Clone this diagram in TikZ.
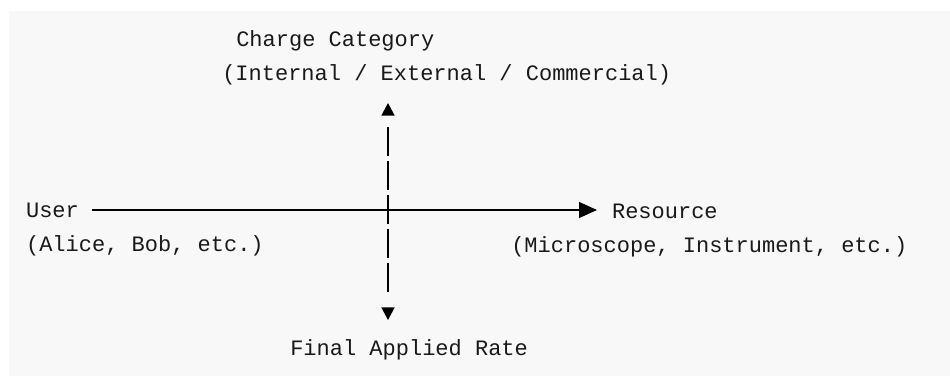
\documentclass[tikz,border=0pt]{standalone}
\usepackage{fontspec}
\newfontfamily\codefont{Liberation Mono}
\usetikzlibrary{arrows.meta}
\definecolor{panel}{RGB}{248,248,248}
\definecolor{ink}{RGB}{25,25,25}
\begin{document}
\begin{tikzpicture}[x=0.75pt,y=-0.75pt,
  txt/.style={font=\codefont\fontsize{16.5pt}{20pt}\selectfont, text=ink,
              inner sep=0pt, anchor=base west},
  haxis/.style={draw=black, line width=0.8pt,
                -{Triangle[length=13.5pt,width=12pt]},
                shorten <=10pt, shorten >=11.1pt},
  % vertical axis: a gap next to each head, then five bar segments
  vaxis/.style={draw=black, line width=1.1pt,
                dash pattern=on 0pt off 8.625pt
                  on 21.75pt off 3.75pt on 21.75pt off 3.75pt
                  on 21.75pt off 3.75pt on 21.75pt off 3.75pt
                  on 21.75pt off 80pt,
                {Triangle[length=9.4pt,width=9.75pt]}-{Triangle[length=9.4pt,width=9.75pt]},
                shorten <=17.25pt, shorten >=26.25pt}]
  % page and panel
  \useasboundingbox (0,0) rectangle (950,376);
  \fill[panel] (9,11) rectangle (950,376);

  % labels
  \node[txt] (cat1)  at (236,46)    {Charge Category};
  \node[txt] (cat2)  at (222,80)    {(Internal / External / Commercial)};
  \node[txt] (user)  at (25.8,217)  {User};
  \node[txt] (alice) at (25.8,251.5){(Alice, Bob, etc.)};
  \node[txt] (res)   at (611.8,218) {Resource};
  \node[txt] (micro) at (511,252)   {(Microscope, Instrument, etc.)};
  \node[txt] (final) at (290,355)   {Final Applied Rate};

  % where the two axes cross
  \coordinate (cross) at (388,210);

  % axes
  \draw[haxis] (user.east |- cross) -- (res.west |- cross);
  \draw[vaxis] (cat2.base -| cross) -- (final.base -| cross);
\end{tikzpicture}
\end{document}
